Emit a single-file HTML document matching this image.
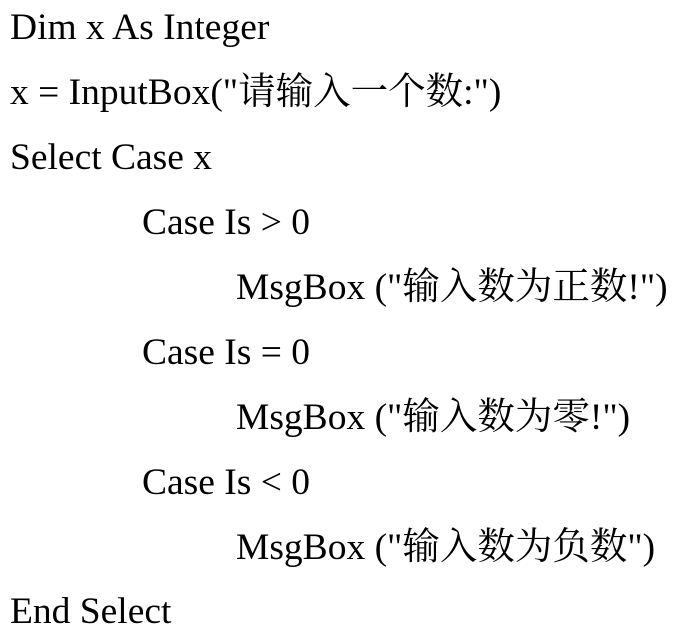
<!DOCTYPE html>
<html><head><meta charset="utf-8"><style>
html,body{margin:0;padding:0;background:#fff;width:679px;height:637px;overflow:hidden;}
.l{position:absolute;font-family:"Liberation Serif","Noto Serif CJK SC","Noto Sans CJK SC",serif;font-size:37.5px;line-height:37.5px;color:#000;white-space:pre;}
</style></head><body>
<div class="l" style="left:10px;top:9px">Dim x As Integer</div>
<div class="l" style="left:10px;top:74px">x = InputBox("请输入一个数:")</div>
<div class="l" style="left:10px;top:139px">Select Case x</div>
<div class="l" style="left:142px;top:204px">Case Is &gt; 0</div>
<div class="l" style="left:236px;top:269px">MsgBox ("输入数为正数!")</div>
<div class="l" style="left:142px;top:334px">Case Is = 0</div>
<div class="l" style="left:236px;top:399px">MsgBox ("输入数为零!")</div>
<div class="l" style="left:142px;top:464px">Case Is &lt; 0</div>
<div class="l" style="left:236px;top:529px">MsgBox ("输入数为负数")</div>
<div class="l" style="left:10px;top:593px">End Select</div>
</body></html>
